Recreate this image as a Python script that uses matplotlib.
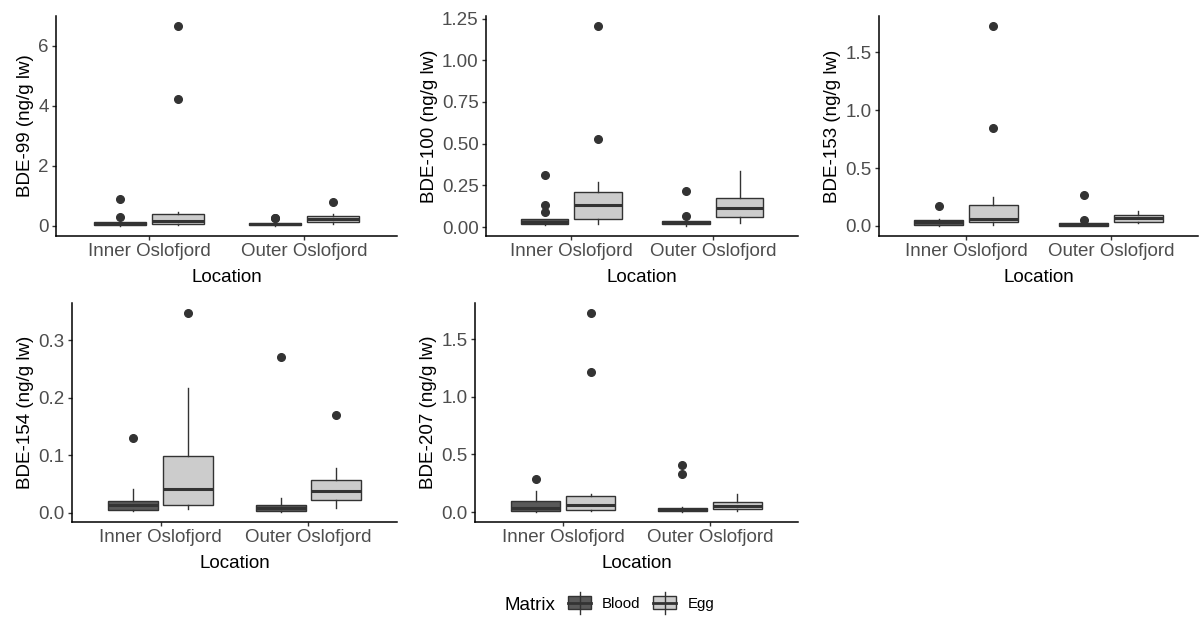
import matplotlib.pyplot as plt
from matplotlib.patches import Rectangle

plt.rcParams['font.family'] = ['Liberation Sans', 'DejaVu Sans']

locations = ['Inner Oslofjord', 'Outer Oslofjord']
matrices = ['Blood', 'Egg']
fill_colors = ['#595959', '#cccccc']
line_col = '#333333'

# box order: Inner-Blood, Inner-Egg, Outer-Blood, Outer-Egg
# each box: [whisker low, q1, median, q3, whisker high]
bde99_box = [[0.0, 0.02, 0.07, 0.14, 0.16],
             [0.02, 0.07, 0.17, 0.39, 0.46],
             [0.0, 0.02, 0.05, 0.10, 0.12],
             [0.07, 0.13, 0.23, 0.32, 0.39]]
bde99_out = [[0.29, 0.90], [4.24, 6.66], [0.25, 0.28], [0.80]]

bde100_box = [[0.010, 0.018, 0.032, 0.046, 0.050],
              [0.020, 0.050, 0.133, 0.213, 0.268],
              [0.006, 0.020, 0.030, 0.038, 0.045],
              [0.024, 0.062, 0.117, 0.175, 0.334]]
bde100_out = [[0.093, 0.133, 0.314], [0.531, 1.206], [0.066, 0.215], []]

bde153_box = [[0.0, 0.012, 0.035, 0.052, 0.063],
              [0.012, 0.032, 0.058, 0.185, 0.248],
              [0.0, 0.003, 0.014, 0.026, 0.030],
              [0.023, 0.035, 0.066, 0.095, 0.133]]
bde153_out = [[0.176], [0.848, 1.725], [0.052, 0.265], []]

bde154_box = [[0.002, 0.0052, 0.0127, 0.0197, 0.0405],
              [0.007, 0.0139, 0.0417, 0.098, 0.217],
              [0.001, 0.003, 0.0075, 0.0127, 0.025],
              [0.0087, 0.022, 0.0376, 0.057, 0.077]]
bde154_out = [[0.130], [0.348], [0.272], [0.170]]

bde207_box = [[0.0, 0.012, 0.0375, 0.098, 0.179],
              [0.005, 0.020, 0.060, 0.141, 0.156],
              [0.0, 0.006, 0.020, 0.032, 0.043],
              [0.005, 0.026, 0.052, 0.087, 0.156]]
bde207_out = [[0.283], [1.217, 1.728], [0.329, 0.404], []]

y_labels = ['BDE-99 (ng/g lw)', 'BDE-100 (ng/g lw)', 'BDE-153 (ng/g lw)',
            'BDE-154 (ng/g lw)', 'BDE-207 (ng/g lw)']
y_ticks = [[0, 2, 4, 6],
           [0.0, 0.25, 0.5, 0.75, 1.0, 1.25],
           [0.0, 0.5, 1.0, 1.5],
           [0.0, 0.1, 0.2, 0.3],
           [0.0, 0.5, 1.0, 1.5]]
y_fmt = ['%d', '%.2f', '%.1f', '%.1f', '%.1f']
boxes_all = [bde99_box, bde100_box, bde153_box, bde154_box, bde207_box]
outs_all = [bde99_out, bde100_out, bde153_out, bde154_out, bde207_out]

W, H = 1203, 617
fig = plt.figure(figsize=(W / 100, H / 100), dpi=100)


def px_rect(l, t, r, b):
    return [l / W, 1 - b / H, (r - l) / W, (b - t) / H]


rects = [(56, 16, 397, 236), (486, 16, 798, 236), (879, 16, 1198, 236),
         (72, 303, 397, 522), (475, 303, 798, 522)]

dodge = 0.1875
bw = 0.3375

for k in range(5):
    ax = fig.add_axes(px_rect(*rects[k]))
    box = boxes_all[k]
    outs = outs_all[k]
    stats = []
    pos = []
    for i in range(4):
        lo, q1, med, q3, hi = box[i]
        stats.append(dict(whislo=lo, q1=q1, med=med, q3=q3, whishi=hi, fliers=outs[i]))
        loc = i // 2
        pos.append(loc + 1 + (-dodge if i % 2 == 0 else dodge))
    bp = ax.bxp(stats, positions=pos, widths=bw, patch_artist=True, showcaps=False,
                boxprops=dict(edgecolor=line_col, linewidth=1.0),
                medianprops=dict(color=line_col, linewidth=2.2, solid_capstyle='butt'),
                whiskerprops=dict(color=line_col, linewidth=1.0),
                flierprops=dict(marker='o', markerfacecolor=line_col,
                                markeredgecolor=line_col, markersize=5.5))
    for i, patch in enumerate(bp['boxes']):
        patch.set_facecolor(fill_colors[i % 2])

    vals = [v for b in box for v in b] + [v for o in outs for v in o]
    lo, hi = min(vals), max(vals)
    pad = 0.05 * (hi - lo)
    ax.set_ylim(lo - pad, hi + pad)
    ax.set_xlim(0.4, 2.6)
    ax.set_xticks([1, 2])
    ax.set_xticklabels(locations)
    ax.set_yticks(y_ticks[k])
    ax.set_yticklabels([y_fmt[k] % t for t in y_ticks[k]])
    ax.set_xlabel('Location', fontsize=13.5, labelpad=6)
    ax.set_ylabel(y_labels[k], fontsize=13.5, labelpad=3)
    ax.tick_params(labelsize=13.5, length=2.75, width=1.0, color=line_col,
                   labelcolor='#4d4d4d', pad=2.5)
    for s in ['top', 'right']:
        ax.spines[s].set_visible(False)
    for s in ['left', 'bottom']:
        ax.spines[s].set_linewidth(1.1)
        ax.spines[s].set_color('black')

# legend drawn in figure pixel space
lg = fig.add_axes([0, 0, 1, 1])
lg.set_xlim(0, W)
lg.set_ylim(H, 0)
lg.axis('off')
lg.text(505, 605, 'Matrix', fontsize=13.5, va='center', ha='left', color='black')
key_x = [568, 653]
text_x = [602, 688]
for j in range(2):
    cx = key_x[j] + 11.5
    lg.plot([cx, cx], [592, 614], color=line_col, lw=1.0)
    lg.add_patch(Rectangle((key_x[j], 596), 23, 13, facecolor=fill_colors[j],
                           edgecolor=line_col, lw=1.0))
    lg.plot([key_x[j], key_x[j] + 23], [602.5, 602.5], color=line_col, lw=2.0)
    lg.text(text_x[j], 604, matrices[j], fontsize=10.8, va='center', ha='left', color='black')

fig.savefig('out.png', dpi=100)
